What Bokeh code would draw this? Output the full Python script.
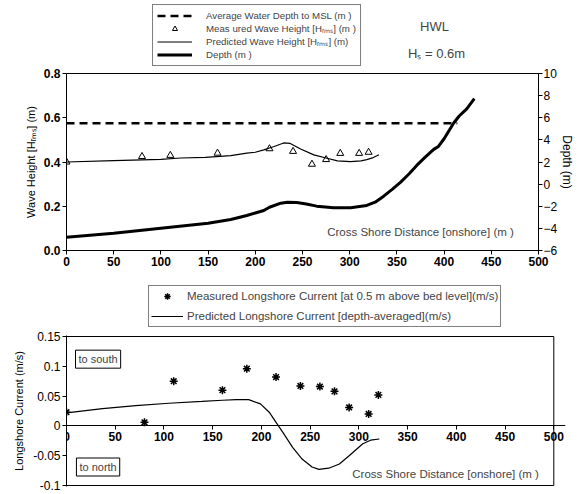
from bokeh.plotting import figure
from bokeh.models import (Range1d, LinearAxis, Label, Legend, LegendItem, FixedTicker,
                          PrintfTickFormatter, NumeralTickFormatter, BoxAnnotation)
from bokeh.layouts import column
from bokeh.embed import file_html
from bokeh.resources import INLINE

# ---------------- top panel data ----------------
depth_x = [0, 50, 100, 150, 174, 191, 209, 215, 227, 234, 244, 254, 265, 283, 301, 318,
           327, 336, 345, 354, 363, 371, 380, 389, 394, 400, 405, 410, 416, 424, 432]
depth_y = [-4.80, -4.44, -3.98, -3.53, -3.2, -2.84, -2.38, -2.09, -1.72, -1.63, -1.67, -1.8,
           -1.99, -2.14, -2.14, -1.93, -1.63, -1.09, -0.48, 0.18, 0.94, 1.69, 2.44, 3.14,
           3.41, 4.1, 4.8, 5.5, 6.16, 6.81, 7.72]

wave_x = [0, 50, 100, 121, 147, 174, 191, 200, 209, 220, 230, 237, 248, 262, 276, 287,
          301, 312, 318, 325, 331]
wave_h = [0.40, 0.406, 0.412, 0.418, 0.421, 0.429, 0.44, 0.444, 0.455, 0.47, 0.486, 0.484,
          0.459, 0.432, 0.417, 0.405, 0.402, 0.405, 0.411, 0.42, 0.433]

meas_x = [0, 80, 110, 160, 215, 240, 260, 275, 290, 310, 320]
meas_h = [0.40, 0.425, 0.43, 0.44, 0.46, 0.448, 0.39, 0.411, 0.439, 0.439, 0.444]

msl_x = [0, 414]
msl_depth = [5.5, 5.5]

x_ticks = [0, 50, 100, 150, 200, 250, 300, 350, 400, 450, 500]
h_ticks = [0.0, 0.2, 0.4, 0.6, 0.8]
d_ticks = [-6, -4, -2, 0, 2, 4, 6, 8, 10]

# ---------------- bottom panel data ----------------
cur_x = [0, 80, 110, 160, 185, 215, 240, 260, 275, 290, 310, 320]
cur_meas = [0.023, 0.006, 0.075, 0.06, 0.096, 0.082, 0.067, 0.066, 0.058, 0.031, 0.02, 0.052]

pred_x = [0, 37, 71, 105, 139, 160, 174, 187, 199, 208, 215, 222, 232, 242, 252, 259, 269,
          280, 290, 304, 312, 321]
pred_v = [0.022, 0.029, 0.034, 0.038, 0.041, 0.043, 0.044, 0.044, 0.037, 0.023, 0.006,
          -0.011, -0.036, -0.056, -0.069, -0.073, -0.071, -0.064, -0.05, -0.03, -0.024, -0.022]

v_ticks = [-0.1, -0.05, 0, 0.05, 0.1, 0.15]

FONT = "Liberation Sans"

# styles shared by the plotted series and their legend samples
MSL_STYLE = dict(line_color="black", line_width=2.5, line_dash="8 5")
MEAS_STYLE = dict(marker="triangle", size=7, fill_color="white", line_color="black", line_width=1)
WAVE_STYLE = dict(line_color="black", line_width=1.2)
DEPTH_STYLE = dict(line_color="black", line_width=3)
CUR_STYLE = dict(marker="asterisk", size=8, line_color="black", line_width=1.5)
PRED_STYLE = dict(line_color="black", line_width=1.2)


def style_axis(ax, size="12px", bold=True):
    ax.major_label_text_font = FONT
    ax.major_label_text_font_size = size
    ax.major_label_text_font_style = "bold" if bold else "normal"
    ax.major_label_text_color = "black"
    ax.axis_line_color = "black"
    ax.axis_line_width = 1
    ax.major_tick_line_color = "black"
    ax.major_tick_in = 0
    ax.major_tick_out = 4
    ax.minor_tick_line_color = None
    ax.axis_label_text_font = FONT
    ax.axis_label_text_font_style = "normal"
    ax.axis_label_text_color = "black"
    ax.major_label_standoff = 2


def header(height):
    h = figure(width=578, height=height, frame_width=578, frame_height=height,
               x_range=Range1d(0, 578), y_range=Range1d(0, height),
               x_axis_type=None, y_axis_type=None, min_border=0,
               output_backend="svg", toolbar_location=None)
    h.outline_line_color = None
    h.background_fill_color = "white"
    h.border_fill_color = "white"
    return h


def style_legend(leg, font_size, padding, spacing, gw, gh, standoff):
    leg.border_line_color = "black"
    leg.border_line_width = 1
    leg.background_fill_color = "white"
    leg.background_fill_alpha = 1
    leg.padding = padding
    leg.spacing = spacing
    leg.margin = 0
    leg.glyph_width = gw
    leg.glyph_height = gh
    leg.label_height = gh
    leg.label_standoff = standoff
    leg.label_text_font = FONT
    leg.label_text_font_size = font_size


# ======================= HEADER (top legend + HWL) =======================
h0 = header(66)
s_msl = h0.line(msl_x, msl_depth, visible=False, **MSL_STYLE)
s_meas = h0.scatter(meas_x, meas_h, visible=False, **MEAS_STYLE)
s_wave = h0.line(wave_x, wave_h, visible=False, **WAVE_STYLE)
s_depth = h0.line(depth_x, depth_y, visible=False, **DEPTH_STYLE)
leg1 = Legend(items=[
    LegendItem(label="Average Water Depth to MSL (m )", renderers=[s_msl]),
    LegendItem(label="Meas ured Wave Height [Hᵣₘₛ] (m )", renderers=[s_meas]),
    LegendItem(label="Predicted Wave Height [Hᵣₘₛ] (m)", renderers=[s_wave]),
    LegendItem(label="Depth (m )", renderers=[s_depth]),
], location=(152, 0.5), orientation="vertical")
style_legend(leg1, "9.7px", 4, 0, 35, 13, 14)
h0.add_layout(leg1)
h0.add_layout(Label(x=368, y=40, x_units="screen", y_units="screen", text="HWL",
                    text_font=FONT, text_font_size="13px",
                    text_align="center", text_baseline="middle"))
h0.add_layout(Label(x=370, y=13, x_units="screen", y_units="screen", text="Hₛ = 0.6m",
                    text_font=FONT, text_font_size="13px",
                    text_align="center", text_baseline="middle"))

# ======================= TOP FIGURE =======================
p = figure(width=578, height=214, frame_width=472, frame_height=177,
           x_range=Range1d(0, 500), y_range=Range1d(0, 0.8),
           output_backend="svg", toolbar_location=None,
           min_border_left=66, min_border_right=40, min_border_top=7, min_border_bottom=30)
p.extra_y_ranges = {"depth": Range1d(-6, 10)}
p.grid.visible = False
p.outline_line_color = "black"
p.outline_line_width = 1
p.background_fill_color = "white"
p.border_fill_color = "white"

p.xaxis.ticker = FixedTicker(ticks=x_ticks)
style_axis(p.xaxis[0])
p.yaxis.ticker = FixedTicker(ticks=h_ticks)
p.yaxis.formatter = PrintfTickFormatter(format="%.1f")
style_axis(p.yaxis[0])
p.yaxis.axis_label = "Wave Height [Hᵣₘₛ] (m)"
p.yaxis.axis_label_text_font_size = "11px"
p.yaxis.axis_label_standoff = 4

rax = LinearAxis(y_range_name="depth", ticker=FixedTicker(ticks=d_ticks), axis_label="Depth (m)")
style_axis(rax, bold=False)
rax.axis_label_text_font_size = "12px"
rax.axis_label_standoff = 0
rax.major_label_standoff = 1
p.add_layout(rax, "right")

p.line(msl_x, msl_depth, y_range_name="depth", **MSL_STYLE)
p.scatter(meas_x, meas_h, **MEAS_STYLE)
p.line(wave_x, wave_h, **WAVE_STYLE)
p.line(depth_x, depth_y, y_range_name="depth", **DEPTH_STYLE)

p.add_layout(Label(x=375, y=0.083, text="Cross Shore Distance [onshore] (m )", text_font=FONT,
                   text_font_size="11.5px", text_align="center", text_baseline="middle"))

# ======================= HEADER (bottom legend) =======================
h1 = header(48)
s_cur = h1.scatter(cur_x, cur_meas, visible=False, **CUR_STYLE)
s_pred = h1.line(pred_x, pred_v, visible=False, **PRED_STYLE)
leg2 = Legend(items=[
    LegendItem(label="Measured Longshore Current [at 0.5 m above bed level](m/s)", renderers=[s_cur]),
    LegendItem(label="Predicted Longshore Current [depth-averaged](m/s)", renderers=[s_pred]),
], location=(148, 1.3), orientation="vertical")
style_legend(leg2, "11.5px", 2, 4, 32, 16, 4)
h1.add_layout(leg2)

# ======================= BOTTOM FIGURE =======================
q = figure(width=578, height=166, frame_width=499, frame_height=151,
           x_range=Range1d(0, 512), y_range=Range1d(-0.1017, 0.1517),
           output_backend="svg", toolbar_location=None,
           min_border_left=64, min_border_right=15, min_border_top=7, min_border_bottom=8)
q.grid.visible = False
q.outline_line_color = None
q.background_fill_color = "white"
q.border_fill_color = "white"
q.add_layout(BoxAnnotation(left=0, right=500, bottom=-0.1, top=0.15, fill_alpha=0,
                           line_color="black", line_width=1, line_alpha=1))

q.xaxis.ticker = FixedTicker(ticks=x_ticks)
style_axis(q.xaxis[0])
q.xaxis.fixed_location = 0
q.yaxis.ticker = FixedTicker(ticks=v_ticks)
q.yaxis.formatter = NumeralTickFormatter(format="0.[00]")
style_axis(q.yaxis[0], bold=False)
q.yaxis.axis_label = "Longshore Current (m/s)"
q.yaxis.axis_label_text_font_size = "11px"
q.yaxis.axis_label_standoff = 5

q.scatter(cur_x, cur_meas, **CUR_STYLE)
q.line(pred_x, pred_v, **PRED_STYLE)

for txt, yv in (("to south", 0.112), ("to north", -0.069)):
    q.add_layout(Label(x=32.4, y=yv, text=txt, text_font=FONT, text_font_size="11px",
                       text_align="center", text_baseline="middle",
                       border_line_color="black", border_line_width=1,
                       background_fill_color="white", padding=3))
q.add_layout(Label(x=389, y=-0.081, text="Cross Shore Distance [onshore] (m )", text_font=FONT,
                   text_font_size="11.5px", text_align="center", text_baseline="middle"))

layout = column(h0, p, h1, q, spacing=0)
open("out.html", "w").write(file_html(layout, INLINE))
